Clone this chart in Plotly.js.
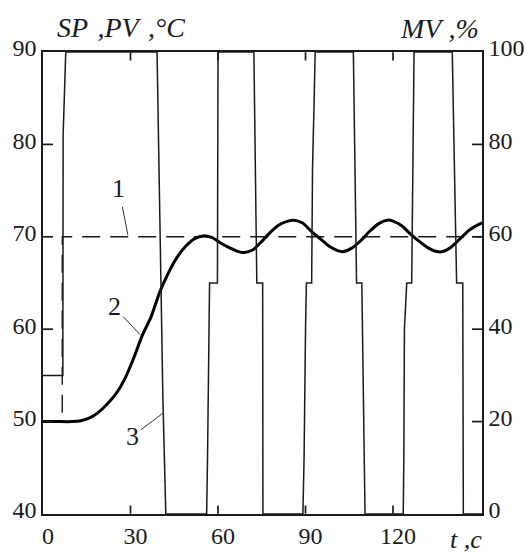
<!DOCTYPE html>
<html>
<head>
<meta charset="utf-8">
<script src="https://cdn.plot.ly/plotly-3.0.1.min.js"></script>
<style>html,body{margin:0;padding:0;background:#fff;}#chart{width:526px;height:555px;}</style>
</head>
<body>
<div id="chart"></div>
<script>
// Time (s) and process value PV (°C) – curve 2
const tPV = [0, 5, 10, 13, 16, 19, 22, 25, 28, 31, 34, 37, 40, 43, 46, 49, 52, 55, 58, 61, 64, 67, 69, 72, 75, 78, 81, 84, 86, 89, 92, 95, 98, 101, 103, 106, 109, 112, 115, 118, 120, 123, 126, 129, 132, 135, 137, 140, 143, 146, 148, 150.5];
const PV  = [50, 50, 50, 50.1, 50.4, 51.0, 51.9, 53.0, 54.6, 56.8, 59.3, 61.3, 64.0, 66.1, 67.8, 69.0, 69.8, 70.1, 69.9, 69.3, 68.8, 68.4, 68.3, 68.6, 69.5, 70.5, 71.3, 71.7, 71.8, 71.5, 70.6, 69.8, 69.0, 68.5, 68.4, 68.8, 69.6, 70.6, 71.4, 71.8, 71.7, 71.2, 70.3, 69.5, 68.8, 68.4, 68.4, 68.9, 69.8, 70.7, 71.1, 71.5];

// Set point SP (°C) – curve 1
const tSP = [0, 6.6, 6.6, 150.5];
const SP  = [50, 50, 70, 70];

// Manipulated variable MV (%) – curve 3
const tMV = [0, 6.8, 6.9, 7.8,
  39.1, 39.4, 40.5, 41.1, 42.1,
  56.1, 56.4, 57.1, 59.8, 59.8, 60.0,
  72.3, 72.7, 73.3, 75.3, 75.4,
  89.1, 89.5, 90.0, 90.3, 92.1, 92.4, 92.9, 93.3,
  106.4, 106.7, 107.5, 109.3, 109.5, 110.4,
  123.5, 123.7, 123.9, 124.7, 126.4, 126.7, 127.0, 127.2,
  140.3, 140.6, 141.8, 143.9, 144.0, 144.1, 150.5];
const MV  = [30, 30, 82, 100,
  100, 88, 50, 25, 0,
  0, 12, 50, 50, 75, 100,
  100, 75, 50, 50, 0,
  0, 12, 40, 50, 50, 75, 88, 100,
  100, 88, 50, 50, 40, 0,
  0, 12, 40, 50, 50, 75, 88, 100,
  100, 88, 50, 50, 25, 0, 0];

const xTicks = [0, 30, 60, 90, 120];
const yTicks = [40, 50, 60, 70, 80, 90];
const y2Ticks = [0, 20, 40, 60, 80, 100];

const serif = 'Liberation Serif, Times New Roman, serif';
const ink = '#1a1a1a';

const W = 526, H = 555, M = {l: 43, r: 44, t: 52, b: 41};
const plotW = W - M.l - M.r, plotH = H - M.t - M.b;
const xR = [0, 150.5], yR = [40, 90], y2R = [0, 100];
const TL = 10; // tick length, px
const dxT = TL / plotW * (xR[1] - xR[0]);
const dyT = TL / plotH * (yR[1] - yR[0]);

const traces = [
  {x: tMV, y: MV, yaxis: 'y2', mode: 'lines', line: {color: ink, width: 1.5}, hoverinfo: 'skip'},
  {x: tSP, y: SP, mode: 'lines', line: {color: ink, width: 1.4, dash: '18px,10px'}, hoverinfo: 'skip'},
  {x: tPV, y: PV, mode: 'lines', line: {color: '#000', width: 3, shape: 'spline', smoothing: 0.6}, hoverinfo: 'skip'}
];

// left / right inward ticks as short line traces, built from the tick arrays
const tickLine = {color: ink, width: 1.7, simplify: false};
yTicks.filter(v => v > yR[0] && v < yR[1]).forEach(v => {
  traces.push({x: [xR[0], xR[0] + dxT], y: [v, v], mode: 'lines', line: tickLine, cliponaxis: false, hoverinfo: 'skip'});
});
y2Ticks.filter(v => v > y2R[0] && v < y2R[1]).forEach(v => {
  traces.push({x: [xR[1] - dxT, xR[1]], y: [v, v], yaxis: 'y2', mode: 'lines', line: tickLine, cliponaxis: false, hoverinfo: 'skip'});
});

// bottom / top inward ticks as arrow-only annotations
const tickAnns = [];
const eps = 0.02;
xTicks.filter(v => v > xR[0]).forEach(v => {
  tickAnns.push({x: v, y: yR[0] + eps, xref: 'x', yref: 'y', axref: 'x', ayref: 'y', ax: v, ay: yR[0] + dyT,
    text: '', showarrow: true, arrowhead: 0, arrowwidth: 1.7, arrowcolor: ink, standoff: 0, startstandoff: 0});
  tickAnns.push({x: v, y: yR[1] - eps, xref: 'x', yref: 'y', axref: 'x', ayref: 'y', ax: v, ay: yR[1] - dyT,
    text: '', showarrow: true, arrowhead: 0, arrowwidth: 1.7, arrowcolor: ink, standoff: 0, startstandoff: 0});
});

const axisCommon = {
  showgrid: false, zeroline: false, showline: true, linecolor: ink, linewidth: 1.6,
  ticks: '', tickfont: {family: serif, size: 24, color: ink}
};

const layout = {
  width: W, height: H,
  margin: {l: M.l, r: M.r, t: M.t, b: M.b, pad: 0},
  paper_bgcolor: '#fff', plot_bgcolor: '#fff',
  showlegend: false,
  xaxis: Object.assign({}, axisCommon, {range: xR, tickmode: 'array', tickvals: xTicks, ticktext: xTicks.map(String), mirror: true, ticklabelshift: 5}),
  yaxis: Object.assign({}, axisCommon, {range: yR, tickmode: 'array', tickvals: yTicks, ticktext: yTicks.map(String), ticklabelshift: -4}),
  yaxis2: Object.assign({}, axisCommon, {range: y2R, overlaying: 'y', side: 'right', tickmode: 'array', tickvals: y2Ticks, ticktext: y2Ticks.map(String), ticklabelshift: -4}),
  annotations: [
    {xref: 'paper', yref: 'paper', x: (121 - M.l) / plotW, y: 1.054, xanchor: 'center', yanchor: 'middle', showarrow: false,
     text: '<i>SP&nbsp;&#8202;,PV&nbsp;&#8202;,°C</i>', font: {family: serif, size: 28, color: ink}},
    {xref: 'paper', yref: 'paper', x: 0.998, y: 1.05, xanchor: 'right', yanchor: 'middle', showarrow: false,
     text: '<i>MV&nbsp;,%</i>', font: {family: serif, size: 28, color: ink}},
    {xref: 'paper', yref: 'paper', x: 0.964, y: -0.055, xanchor: 'center', yanchor: 'middle', showarrow: false,
     text: '<i>t&nbsp;,c</i>', font: {family: serif, size: 26, color: ink}},
    {x: 29.1, y: 70.2, ax: -9, ay: -46, text: '1', showarrow: true, arrowhead: 0, arrowwidth: 1, arrowcolor: '#333', borderpad: 3,
     font: {family: serif, size: 26, color: ink}},
    {x: 33.3, y: 59.4, ax: -26, ay: -28, text: '2', showarrow: true, arrowhead: 0, arrowwidth: 1, arrowcolor: '#333', borderpad: 2,
     font: {family: serif, size: 26, color: ink}},
    {x: 41.5, y: 51.0, ax: -32, ay: 24, text: '3', showarrow: true, arrowhead: 0, arrowwidth: 1, arrowcolor: '#333', borderpad: 2,
     font: {family: serif, size: 26, color: ink}}
  ].concat(tickAnns)
};

Plotly.newPlot('chart', traces, layout, {staticPlot: true, displayModeBar: false});
</script>
</body>
</html>
